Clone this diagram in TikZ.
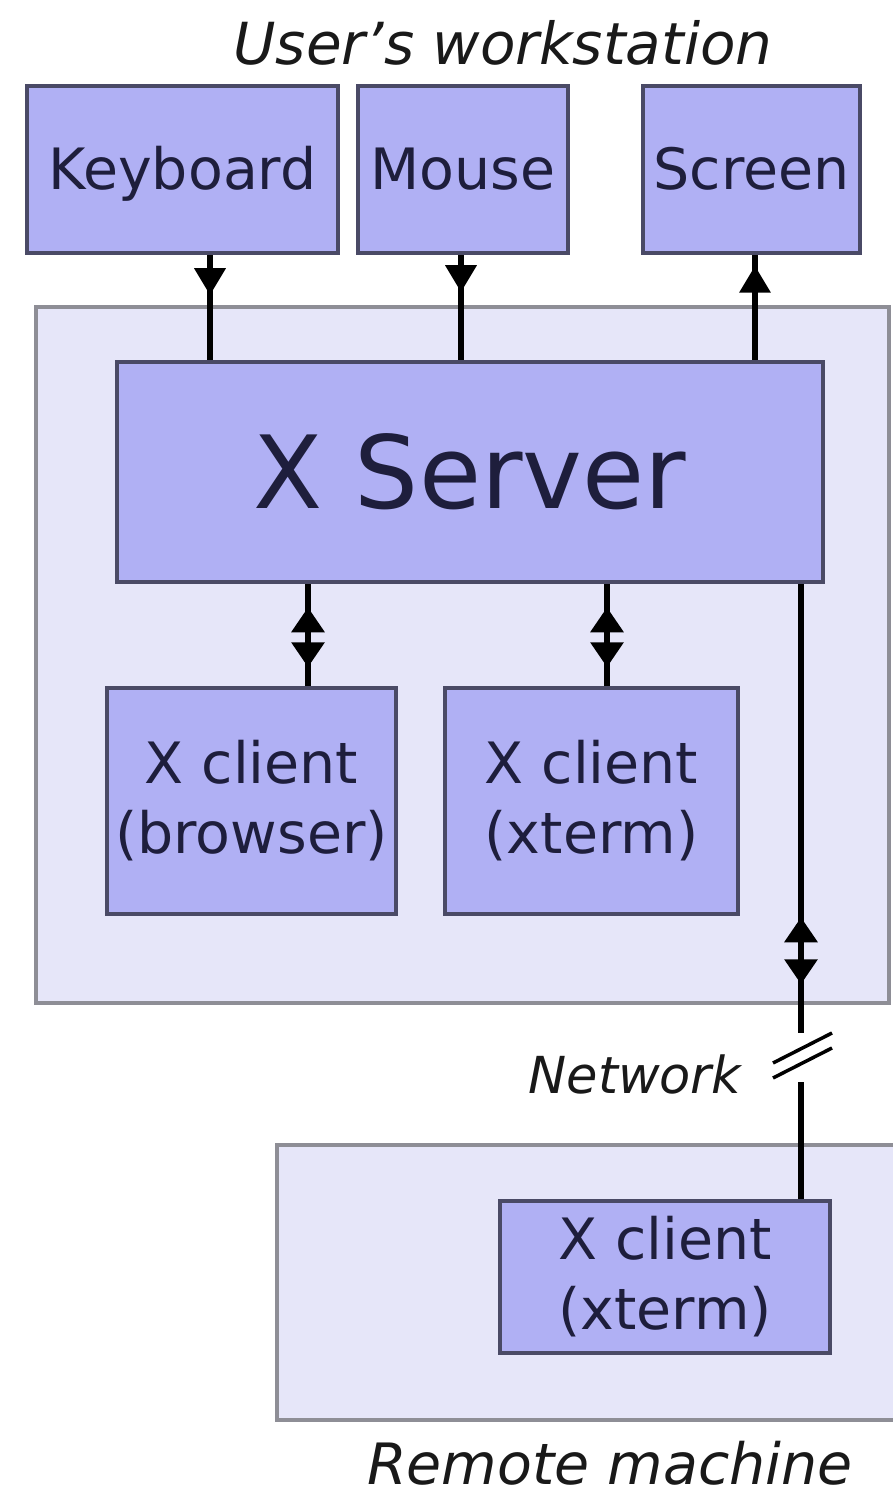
\documentclass[tikz,border=0pt]{standalone}
\usepackage{fontspec}
\setmainfont{DejaVu Sans}
\usetikzlibrary{arrows.meta,decorations.markings}

\definecolor{boxfill}{HTML}{B0B0F4}
\definecolor{boxline}{HTML}{4A4A66}
\definecolor{hostfill}{HTML}{E6E6F9}
\definecolor{hostline}{HTML}{8E8E96}
\definecolor{boxtext}{HTML}{1E1E3C}

\tikzset{
  unit/.style={draw=boxline, fill=boxfill, line width=4.5pt, inner sep=0pt,
    text=boxtext, align=center, font=\fontsize{57}{70}\selectfont},
  host/.style={draw=hostline, fill=hostfill, line width=4pt},
  tag/.style={anchor=base, text=black!90, font=\itshape\fontsize{57}{68}\selectfont},
  wire/.style={line width=6.5pt},
  tipat/.style={wire, postaction={decorate}, decoration={markings,
    mark=at position #1 with {\arrow{Triangle[length=27pt,width=30pt]}}}},
  both/.style 2 args={wire, postaction={decorate}, decoration={markings,
    mark=at position #1 with {\arrowreversed{Triangle[length=25pt,width=32pt]}},
    mark=at position #2 with {\arrow{Triangle[length=25pt,width=32pt]}}}}
}

\begin{document}
\begin{tikzpicture}[x=1pt, y=-1pt]
\useasboundingbox (0,0) rectangle (892,1495);

% machines
\draw[host] (36,307) rectangle (889,1003);
\draw[host] (277,1145) rectangle (896,1420);

% devices
\node[unit, minimum width=311pt, minimum height=167pt, text height=41pt, text depth=0pt] (kbd) at (182.5,169.5) {Keyboard};
\node[unit, minimum width=210pt, minimum height=167pt, text height=41pt, text depth=0pt] (ms) at (463,169.5) {Mouse};
\node[unit, minimum width=217pt, minimum height=167pt, text height=41pt, text depth=0pt] (scr) at (751.5,169.5) {Screen};

\node[unit, minimum width=706pt, minimum height=220pt, text height=73pt, text depth=0pt,
  font=\fontsize{101}{121}\selectfont] (srv) at (470,472) {X Server};

\node[unit, minimum width=289pt, minimum height=226pt] (brw) at (251.5,801) {X client\\(browser)};
\node[unit, minimum width=293pt, minimum height=226pt] (xt) at (591.5,801) {X client\\(xterm)};
\node[unit, minimum width=330pt, minimum height=152pt] (rxt) at (665,1277) {X client\\(xterm)};

% labels
\node[tag, font=\itshape\fontsize{58}{70}\selectfont] (ws) at (503,65) {User’s workstation};
\node[tag, anchor=base east, font=\itshape\fontsize{51}{61}\selectfont] (net) at (745,1093) {Network};
\node[tag] (rm) at (610,1484) {Remote machine};

% wires
\draw[tipat=40pt] ([xshift=27.5pt]kbd.south) -- ([xshift=27.5pt]kbd.south |- srv.north);
\draw[tipat=37pt] ([xshift=-2pt]ms.south) -- ([xshift=-2pt]ms.south |- srv.north);
\draw[tipat=94pt] ([xshift=3.5pt]scr.south |- srv.north) -- ([xshift=3.5pt]scr.south);
\draw[both={23pt}{83pt}] ([xshift=56.5pt]brw.north |- srv.south) -- ([xshift=56.5pt]brw.north);
\draw[both={23pt}{83pt}] ([xshift=15.5pt]xt.north |- srv.south) -- ([xshift=15.5pt]xt.north);

% network link
\coordinate (netup) at (801,1033);
\coordinate (netdn) at (801,1082);
\draw[both={333pt}{400pt}] (srv.south -| netup) -- (netup);
\draw[wire] (netdn) -- (netdn |- rxt.north);
\draw[line width=3.5pt] (773,1063) -- (832,1033) (773,1078) -- (832,1048);
\end{tikzpicture}
\end{document}
